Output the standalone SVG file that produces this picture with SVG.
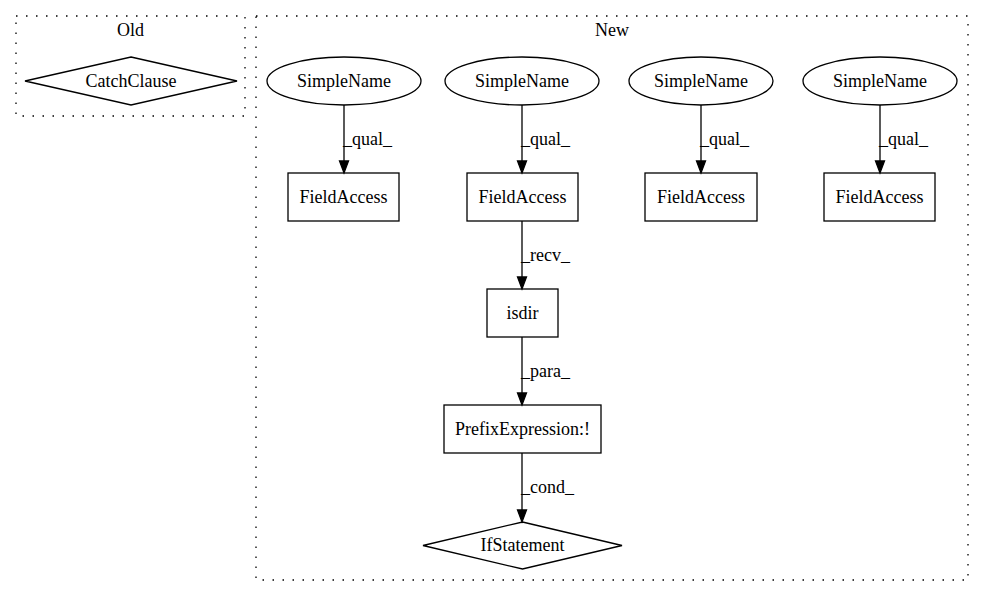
<svg xmlns="http://www.w3.org/2000/svg" width="984" height="596" viewBox="0 0 984 596">
<style>
text { font-family: "Liberation Serif", "Times New Roman", serif; font-size: 18px; fill: #000; }
.c { text-anchor: middle; }
.cl { fill: none; stroke: #000; stroke-width: 1.3; stroke-dasharray: 1.5 8.5; }
.n { fill: #fff; stroke: #000; stroke-width: 1.3; }
.e { fill: none; stroke: #000; stroke-width: 1.3; }
.ah { fill: #000; stroke: #000; stroke-width: 1.3; }
</style>
<rect width="984" height="596" fill="#fff"/>
<g id="cluster_old">
  <rect class="cl" x="16" y="16" width="229" height="100"/>
  <text class="c" x="130.5" y="36">Old</text>
</g>
<g id="cluster_new">
  <rect class="cl" x="256" y="16" width="712" height="564"/>
  <text class="c" x="612" y="36">New</text>
</g>
<g id="catchclause">
  <polygon class="n" points="131,57 237,81 131,105 25,81"/>
  <text class="c" x="131" y="87">CatchClause</text>
</g>
<g id="sn1">
  <ellipse class="n" cx="344" cy="81" rx="77" ry="24"/>
  <text class="c" x="344" y="87">SimpleName</text>
</g>
<g id="sn2">
  <ellipse class="n" cx="522" cy="81" rx="77" ry="24"/>
  <text class="c" x="522" y="87">SimpleName</text>
</g>
<g id="sn3">
  <ellipse class="n" cx="701" cy="81" rx="72" ry="24"/>
  <text class="c" x="701" y="87">SimpleName</text>
</g>
<g id="sn4">
  <ellipse class="n" cx="880" cy="81" rx="77" ry="24"/>
  <text class="c" x="880" y="87">SimpleName</text>
</g>
<g id="fa1">
  <rect class="n" x="288" y="173" width="111" height="48"/>
  <text class="c" x="343.5" y="203">FieldAccess</text>
</g>
<g id="fa2">
  <rect class="n" x="467" y="173" width="111" height="48"/>
  <text class="c" x="522.5" y="203">FieldAccess</text>
</g>
<g id="fa3">
  <rect class="n" x="645" y="173" width="112" height="48"/>
  <text class="c" x="701" y="203">FieldAccess</text>
</g>
<g id="fa4">
  <rect class="n" x="824" y="173" width="111" height="48"/>
  <text class="c" x="879.5" y="203">FieldAccess</text>
</g>
<g id="isdir">
  <rect class="n" x="487" y="289" width="71" height="48"/>
  <text class="c" x="522.5" y="319">isdir</text>
</g>
<g id="prefix">
  <rect class="n" x="444" y="405" width="157" height="48"/>
  <text class="c" x="522.5" y="435">PrefixExpression:!</text>
</g>
<g id="ifstatement">
  <polygon class="n" points="522.5,522 622,545.5 522.5,569 423,545.5"/>
  <text class="c" x="522.5" y="551">IfStatement</text>
</g>
<g id="connectors">
  <line class="e" x1="344" y1="105" x2="344" y2="161"/>
  <polygon class="ah" points="339.5,161 348.5,161 344,173"/>
  <text x="343" y="145">_qual_</text>
  <line class="e" x1="522" y1="105" x2="522" y2="161"/>
  <polygon class="ah" points="517.5,161 526.5,161 522,173"/>
  <text x="521" y="145">_qual_</text>
  <line class="e" x1="701" y1="105" x2="701" y2="161"/>
  <polygon class="ah" points="696.5,161 705.5,161 701,173"/>
  <text x="700" y="145">_qual_</text>
  <line class="e" x1="880" y1="105" x2="880" y2="161"/>
  <polygon class="ah" points="875.5,161 884.5,161 880,173"/>
  <text x="879" y="145">_qual_</text>
  <line class="e" x1="522" y1="221" x2="522" y2="277"/>
  <polygon class="ah" points="517.5,277 526.5,277 522,289"/>
  <text x="521" y="261">_recv_</text>
  <line class="e" x1="522" y1="337" x2="522" y2="393"/>
  <polygon class="ah" points="517.5,393 526.5,393 522,405"/>
  <text x="521" y="377">_para_</text>
  <line class="e" x1="522" y1="453" x2="522" y2="510"/>
  <polygon class="ah" points="517.5,510 526.5,510 522,522"/>
  <text x="521" y="493">_cond_</text>
</g>
</svg>
